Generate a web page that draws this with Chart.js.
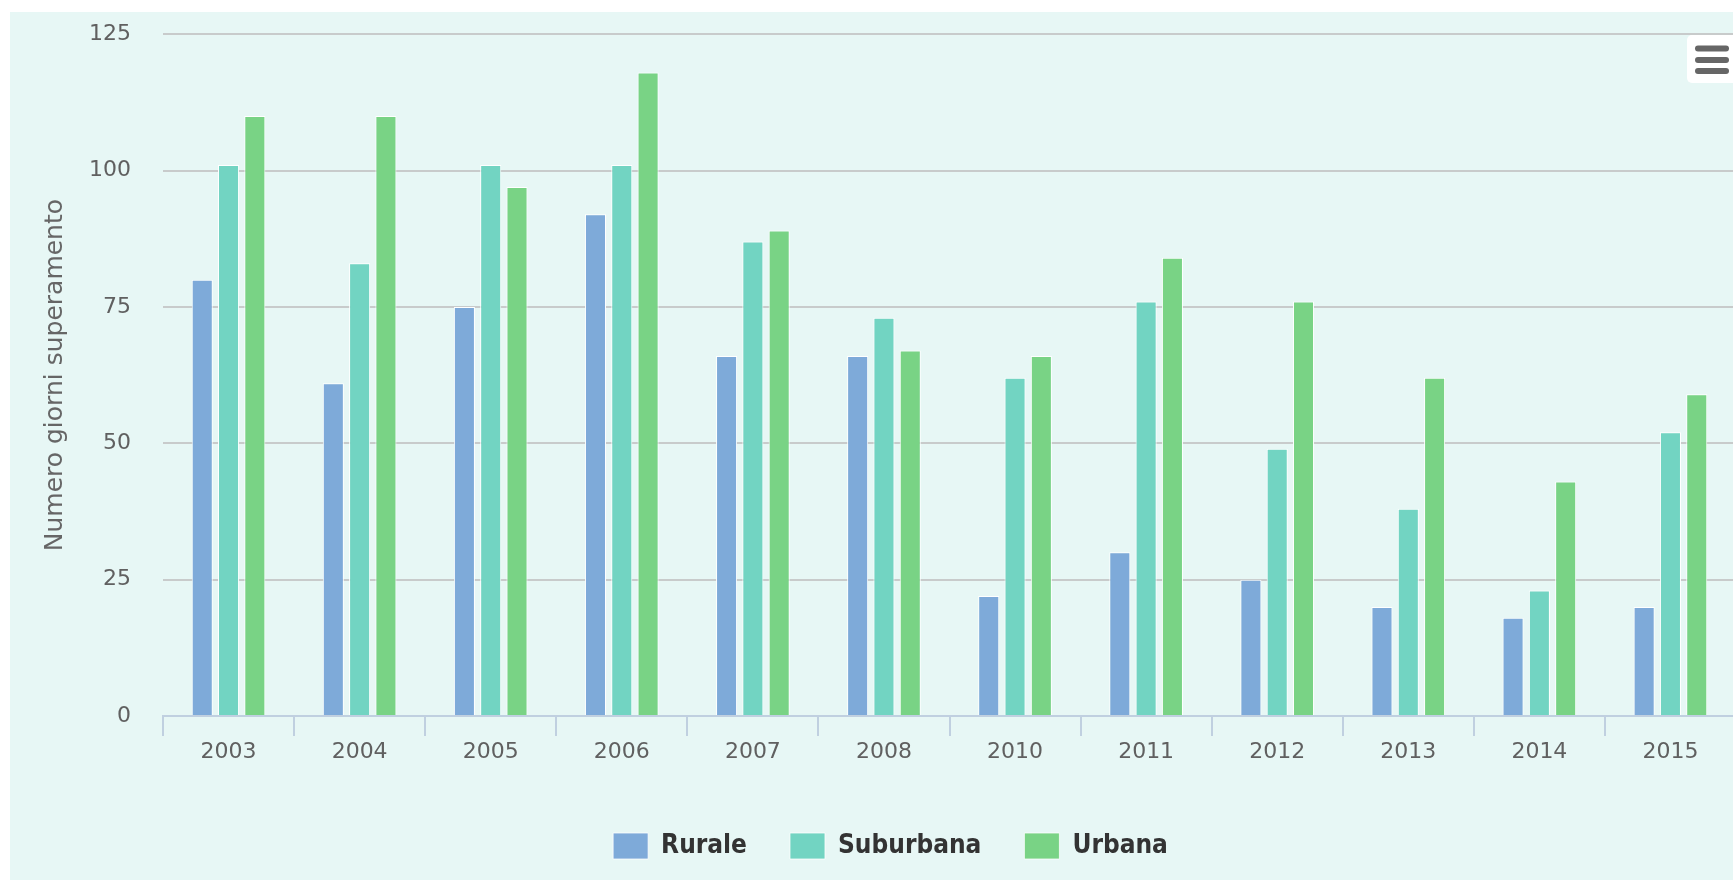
<!DOCTYPE html>
<html lang="it">
<head>
    <meta charset="UTF-8">
    <title>Numero giorni superamento</title>
    <script src="https://cdn.jsdelivr.net/npm/chart.js"></script>
    <style>
        html, body { margin: 0; padding: 0; background: #fff; overflow: hidden; width: 1733px; height: 882px; }
        #bg { position: absolute; left: 10px; top: 12px; width: 1760px; height: 868px; background: #e7f7f5; }
        #wrap { position: absolute; left: 10px; top: -11px; width: 1760px; height: 890px; }
    </style>
</head>
<body>
    <div id="bg"></div>
    <div id="wrap"><canvas id="chart"></canvas></div>

    <script>
        // data
        const years = ['2003', '2004', '2005', '2006', '2007', '2008', '2010', '2011', '2012', '2013', '2014', '2015'];
        const rurale    = [80, 61, 75, 92, 66, 66, 22, 30, 25, 20, 18, 20];
        const suburbana = [101, 83, 101, 101, 87, 73, 62, 76, 49, 38, 23, 52];
        const urbana    = [110, 110, 97, 118, 89, 67, 66, 84, 76, 62, 43, 59];
        const yTicks = [0, 25, 50, 75, 100, 125];

        const colors = { rurale: '#7eaad9', suburbana: '#72d4c2', urbana: '#79d385' };

        function bars(label, data, color) {
            return {
                label: label,
                data: data,
                backgroundColor: color,
                borderColor: '#ffffff',
                borderWidth: { top: 1, left: 1, right: 1, bottom: 0 },
                borderSkipped: false,
                categoryPercentage: 0.602,
                barPercentage: 0.8
            };
        }

        // hamburger menu button in the top right corner
        const menuButton = {
            id: 'menuButton',
            afterDraw(chart) {
                const ctx = chart.ctx;
                ctx.save();
                ctx.fillStyle = '#ffffff';
                ctx.beginPath();
                ctx.roundRect(1677, 46, 52, 48, 5);
                ctx.fill();
                ctx.strokeStyle = '#666666';
                ctx.lineWidth = 6;
                ctx.lineCap = 'round';
                [59.5, 71, 82].forEach(y => {
                    ctx.beginPath();
                    ctx.moveTo(1688, y);
                    ctx.lineTo(1716, y);
                    ctx.stroke();
                });
                ctx.restore();
            }
        };

        new Chart(document.getElementById('chart'), {
            type: 'bar',
            data: {
                labels: years,
                datasets: [
                    bars('Rurale', rurale, colors.rurale),
                    bars('Suburbana', suburbana, colors.suburbana),
                    bars('Urbana', urbana, colors.urbana)
                ]
            },
            options: {
                responsive: true,
                maintainAspectRatio: false,
                animation: false,
                layout: { padding: { top: 21, right: 34, bottom: 10, left: 35 } },
                plugins: {
                    tooltip: { enabled: false },
                    legend: {
                        position: 'bottom',
                        labels: {
                            boxWidth: 35,
                            boxHeight: 26,
                            padding: 43,
                            color: '#333333',
                            font: { family: 'DejaVu Sans Condensed', weight: 'bold', size: 26 }
                        }
                    }
                },
                scales: {
                    x: {
                        afterFit(scale) { scale.height = 74; },
                        grid: {
                            display: true,
                            drawOnChartArea: false,
                            drawTicks: true,
                            tickLength: 20,
                            tickColor: '#c0d0e0',
                            lineWidth: 2,
                            offset: true
                        },
                        border: { display: true, color: '#c0d0e0', width: 2 },
                        ticks: {
                            color: '#606060',
                            padding: 3,
                            font: { family: 'DejaVu Sans', size: 22 }
                        }
                    },
                    y: {
                        min: 0,
                        max: 125,
                        afterFit(scale) { scale.width = 118; },
                        afterBuildTicks(scale) { scale.ticks = yTicks.map(v => ({ value: v })); },
                        grid: { color: '#c8cbcb', lineWidth: 2, drawTicks: false },
                        border: { display: false },
                        ticks: {
                            color: '#606060',
                            padding: 32,
                            font: { family: 'DejaVu Sans', size: 22 }
                        },
                        title: {
                            display: true,
                            text: 'Numero giorni superamento',
                            color: '#666666',
                            padding: { top: 0, bottom: 0 },
                            font: { family: 'DejaVu Sans', size: 25, lineHeight: 0.8 }
                        }
                    }
                }
            },
            plugins: [menuButton]
        });
    </script>
</body>
</html>
